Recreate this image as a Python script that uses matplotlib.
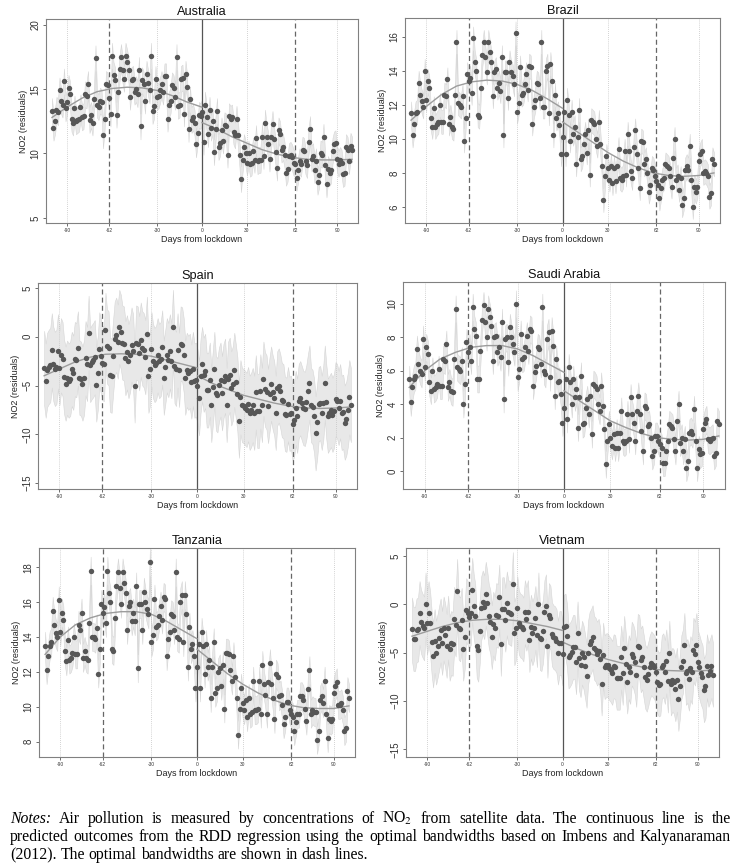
import numpy as np
import matplotlib
matplotlib.use("Agg")
import matplotlib.pyplot as plt

plt.rcParams["font.family"] = ["Liberation Sans", "DejaVu Sans"]
plt.rcParams["mathtext.fontset"] = "stix"

W, H = 740, 867

days = np.arange(-100, 101)
fit_days_left = [-100, -90, -80, -70, -60, -50, -40, -30, -20, -10, 0]
fit_days_right = [0, 10, 20, 30, 40, 50, 60, 70, 80, 90, 100]
x_ticks = [-90, -62, -30, 0, 30, 62, 90]

australia_no2 = [
    13.3, 12.0, 12.5, 13.4, 13.2, 14.9, 14.1, 13.8, 15.6, 13.5,
    14.0, 15.1, 14.6, 12.7, 12.4, 13.5, 12.5, 12.6, 12.7, 13.6,
    12.8, 12.9, 14.6, 14.5, 15.4, 12.6, 13.0, 12.4, 14.2, 17.4,
    13.8, 13.6, 14.1, 14.0, 11.4, 12.7, 15.4, 15.3, 14.3, 13.1,
    17.6, 16.1, 15.7, 13.0, 14.8, 16.6, 17.5, 16.5, 15.8, 17.6,
    17.1, 16.5, 14.4, 15.7, 15.8, 14.8, 15.0, 14.6, 16.5, 12.1,
    15.7, 15.4, 14.1, 16.2, 15.5, 14.9, 17.6, 13.3, 13.7, 15.8,
    14.4, 14.5, 14.9, 15.4, 14.8, 16.0, 16.0, 12.7, 13.8, 14.1,
    15.3, 15.1, 14.4, 17.5, 13.7, 13.8, 15.8, 15.9, 13.1, 16.2,
    15.2, 11.9, 14.2, 12.6, 12.8, 12.4, 10.7, 11.6, 13.0, 12.9,
    13.2, 10.9, 13.8, 12.8, 11.5, 13.4, 12.0, 12.5, 10.1, 11.9,
    13.3, 10.5, 10.8, 11.8, 11.0, 12.2, 12.1, 9.9, 12.9, 12.7,
    12.8, 11.7, 11.4, 12.7, 11.4, 9.9, 8.0, 9.5, 10.5, 10.0,
    9.3, 10.0, 9.2, 9.3, 10.2, 9.5, 11.2, 9.4, 9.5, 9.5,
    11.3, 9.8, 12.4, 11.3, 10.7, 9.6, 11.3, 12.3, 11.1, 10.1,
    8.9, 11.8, 11.5, 10.3, 10.5, 9.9, 8.5, 8.8, 9.8, 9.9,
    9.7, 9.3, 9.2, 8.1, 8.7, 9.4, 9.2, 10.3, 10.2, 9.4,
    9.1, 10.9, 11.9, 9.6, 9.8, 8.7, 9.4, 7.8, 8.3, 10.0,
    9.9, 11.3, 9.1, 7.6, 8.8, 8.5, 8.7, 10.2, 10.7, 10.8,
    9.6, 9.2, 9.5, 9.3, 8.4, 8.5, 10.5, 10.3, 9.4, 10.6,
    10.3,
]
australia_fit_left = [12.8, 13.6, 14.3, 14.8, 15.05, 15.15, 15.1, 14.9, 14.5, 14.0, 13.6]
australia_fit_right = [12.4, 11.9, 11.3, 10.8, 10.3, 9.95, 9.7, 9.55, 9.5, 9.5, 9.55]
australia_ci = 1.0

brazil_no2 = [
    11.5, 10.2, 10.9, 11.5, 11.6, 13.3, 12.6, 12.2, 11.9, 14.0,
    12.3, 13.4, 13.0, 11.2, 10.7, 11.8, 10.7, 10.9, 11.0, 12.0,
    11.0, 11.0, 12.6, 12.5, 13.5, 10.9, 11.3, 10.7, 10.6, 12.6,
    15.7, 12.1, 12.0, 11.9, 12.5, 9.9, 11.2, 13.8, 13.4, 13.6,
    12.7, 15.9, 14.5, 14.0, 11.4, 11.3, 13.0, 14.9, 15.7, 14.8,
    13.9, 15.7, 15.1, 14.5, 12.5, 13.9, 14.1, 13.0, 13.3, 12.8,
    14.8, 10.2, 13.9, 13.9, 12.4, 14.5, 13.9, 13.7, 13.2, 16.2,
    11.6, 12.1, 14.2, 12.6, 12.7, 13.2, 13.8, 12.9, 14.3, 14.2,
    10.9, 11.9, 12.3, 13.3, 13.2, 12.4, 15.7, 11.9, 11.9, 14.0,
    14.3, 11.5, 14.4, 13.4, 10.2, 12.6, 11.2, 11.5, 10.8, 9.1,
    10.1, 11.6, 9.1, 12.3, 11.4, 9.9, 11.6, 10.3, 10.7, 8.5,
    10.1, 11.7, 8.8, 9.0, 9.7, 10.3, 9.2, 10.5, 7.9, 11.1,
    11.0, 10.9, 10.0, 9.6, 11.0, 9.7, 8.4, 6.4, 7.8, 9.0,
    8.3, 7.6, 8.4, 7.4, 8.3, 7.5, 8.4, 9.4, 7.7, 7.6,
    7.8, 9.3, 7.9, 10.3, 9.3, 8.1, 7.7, 9.5, 10.5, 9.1,
    8.3, 7.1, 9.9, 9.8, 8.5, 8.8, 8.0, 6.9, 7.3, 8.3,
    8.2, 7.8, 7.5, 7.3, 6.5, 7.1, 7.6, 7.7, 8.5, 8.4,
    8.3, 7.8, 7.2, 8.9, 10.0, 7.6, 7.8, 7.0, 7.7, 6.1,
    6.5, 8.2, 8.4, 8.2, 9.6, 7.6, 6.0, 7.2, 6.9, 7.2,
    8.7, 9.1, 9.3, 8.0, 8.1, 8.0, 7.8, 6.6, 6.8, 8.8,
    8.5,
]
brazil_fit_left = [11.1, 11.9, 12.6, 13.1, 13.35, 13.45, 13.4, 13.2, 12.85, 12.35, 11.8]
brazil_fit_right = [11.0, 10.4, 9.8, 9.2, 8.7, 8.3, 8.0, 7.85, 7.8, 7.85, 8.0]
brazil_ci = 0.7

spain_no2 = [
    -3.2, -4.5, -3.4, -3.1, -2.9, -1.4, -2.8, -3.3, -3.1, -1.5,
    -3.2, -1.9, -2.3, -4.1, -4.8, -4.2, -4.5, -4.3, -3.3, -3.7,
    -2.3, -2.4, -1.2, -4.2, -4.3, -4.8, -4.2, -2.2, -2.8, 0.4,
    -2.9, -2.6, -2.4, -2.1, -4.9, -3.7, -1.3, -2.0, -2.7, -2.8,
    0.7, -1.0, -1.2, -3.9, -4.0, -2.0, -0.2, 0.2, -0.5, 1.0,
    0.5, -0.6, -0.7, -2.2, -1.6, -2.5, -1.9, -0.8, -1.5, -5.0,
    -0.6, -0.7, -1.7, -0.3, -1.2, -1.4, -2.1, 0.3, -4.0, -3.3,
    -1.3, -2.5, -2.9, -2.7, -1.9, -2.5, -2.3, -1.1, -4.2, -3.1,
    -1.9, -2.4, -1.5, -2.5, 1.0, -3.0, -3.3, -1.4, -3.4, -0.7,
    -0.8, -1.9, -4.2, -3.4, -3.7, -3.5, -4.6, -3.3, -4.5, -4.4,
    -5.1, -6.3, -4.0, -2.8, -3.9, -3.5, -5.5, -5.5, -4.4, -7.0,
    -5.2, -3.3, -5.8, -6.0, -4.9, -4.4, -5.8, -4.5, -4.0, -7.0,
    -4.3, -3.9, -5.3, -4.8, -3.4, -4.6, -5.9, -8.6, -6.2, -7.0,
    -7.1, -7.3, -7.5, -6.9, -7.8, -7.5, -7.0, -7.8, -5.7, -7.6,
    -7.6, -5.6, -7.0, -4.3, -5.4, -5.7, -7.1, -5.9, -4.8, -5.7,
    -6.3, -7.8, -5.3, -5.0, -5.6, -6.5, -6.6, -7.9, -8.0, -6.9,
    -7.9, -7.8, -8.9, -8.5, -7.3, -8.1, -6.6, -6.3, -6.8, -7.3,
    -7.4, -6.7, -5.6, -4.7, -7.0, -7.2, -8.1, -9.9, -8.7, -6.9,
    -6.8, -7.8, -6.8, -4.7, -6.7, -8.1, -7.8, -7.5, -8.0, -7.6,
    -6.4, -6.6, -7.3, -6.6, -7.8, -7.7, -8.8, -8.4, -7.5, -6.2,
    -7.0,
]
spain_fit_left = [-4.0, -3.3, -2.6, -2.1, -1.8, -1.75, -1.8, -2.0, -2.4, -2.8, -3.2]
spain_fit_right = [-4.0, -4.8, -5.4, -6.0, -6.4, -6.8, -7.1, -7.3, -7.35, -7.3, -7.2]
spain_ci = 3.8

saudi_no2 = [
    5.5, 4.1, 5.0, 5.5, 5.7, 7.3, 6.4, 6.0, 5.8, 7.9,
    6.2, 7.4, 7.0, 5.3, 4.8, 6.0, 4.9, 5.0, 5.2, 6.1,
    5.1, 5.1, 6.7, 6.6, 7.6, 5.0, 5.3, 4.8, 4.7, 6.7,
    9.7, 6.2, 6.1, 6.0, 6.6, 4.0, 5.2, 7.7, 7.1, 7.4,
    6.6, 9.8, 8.5, 8.1, 5.5, 5.5, 7.2, 9.0, 9.9, 8.9,
    8.0, 9.7, 9.2, 8.7, 6.6, 8.0, 8.1, 7.1, 7.4, 6.8,
    8.9, 4.3, 7.9, 8.0, 6.5, 8.6, 8.0, 7.6, 7.1, 10.0,
    5.6, 6.1, 8.2, 6.7, 6.8, 7.4, 8.1, 7.2, 8.5, 8.4,
    5.1, 5.9, 6.3, 7.4, 7.3, 6.4, 9.8, 6.0, 5.8, 7.9,
    8.3, 5.6, 8.4, 7.5, 4.5, 6.7, 5.3, 5.4, 4.6, 2.9,
    3.8, 5.5, 3.1, 6.2, 5.3, 4.0, 5.5, 4.4, 4.9, 2.6,
    4.4, 5.7, 2.8, 2.9, 3.8, 4.3, 3.4, 4.5, 2.2, 5.2,
    5.1, 4.9, 4.0, 3.6, 5.1, 3.9, 2.5, 0.4, 1.8, 2.8,
    2.0, 1.5, 2.2, 1.4, 2.3, 1.4, 2.3, 3.6, 1.8, 1.7,
    1.8, 3.4, 1.9, 4.4, 3.4, 2.9, 1.8, 3.6, 4.5, 3.4,
    2.4, 1.2, 3.9, 3.8, 2.7, 2.8, 2.0, 0.9, 1.2, 2.1,
    2.1, 1.8, 1.6, 1.4, 0.5, 0.5, 1.2, 1.8, 2.8, 2.7,
    2.6, 1.9, 1.2, 3.0, 4.0, 1.7, 2.0, 1.2, 1.9, 0.2,
    0.6, 2.3, 2.4, 2.2, 3.7, 1.8, 0.2, 1.3, 1.0, 1.1,
    2.5, 2.9, 3.1, 1.9, 1.8, 1.9, 2.0, 0.9, 1.1, 3.0,
    2.8,
]
saudi_fit_left = [5.0, 6.0, 6.7, 7.1, 7.4, 7.5, 7.5, 7.3, 6.9, 6.4, 5.9]
saudi_fit_right = [4.8, 4.2, 3.6, 3.0, 2.6, 2.25, 2.0, 1.9, 1.85, 1.9, 2.1]
saudi_ci = 0.8

tanzania_no2 = [
    13.5, 12.1, 12.9, 13.5, 13.7, 15.5, 14.7, 14.2, 14.0, 16.1,
    14.3, 15.4, 15.0, 13.2, 12.6, 13.8, 12.7, 12.8, 13.1, 14.0,
    13.0, 13.0, 14.7, 14.4, 15.4, 12.8, 13.2, 12.8, 12.7, 14.8,
    17.8, 14.0, 14.0, 13.9, 14.5, 11.9, 13.3, 15.9, 15.4, 15.7,
    14.8, 17.8, 16.5, 16.0, 13.3, 13.2, 15.1, 16.9, 17.7, 16.8,
    15.9, 17.7, 17.1, 16.5, 14.4, 15.8, 16.0, 14.9, 15.4, 14.9,
    16.9, 12.2, 15.9, 15.9, 14.4, 16.6, 16.0, 15.6, 15.3, 18.3,
    13.7, 14.1, 16.2, 14.6, 14.7, 15.2, 15.8, 15.0, 16.3, 16.2,
    12.9, 13.9, 14.3, 15.3, 15.2, 14.4, 17.7, 14.0, 13.9, 16.0,
    16.4, 13.7, 16.4, 15.3, 12.3, 14.6, 13.3, 13.6, 12.9, 11.1,
    12.3, 13.6, 11.1, 14.3, 13.5, 11.9, 13.6, 12.3, 12.7, 10.5,
    12.3, 13.7, 10.8, 11.1, 12.0, 12.2, 11.2, 12.4, 9.9, 13.1,
    13.1, 13.0, 12.1, 11.5, 12.9, 11.7, 10.5, 8.4, 9.9, 11.1,
    10.2, 9.8, 10.4, 9.4, 10.5, 9.6, 9.7, 11.5, 9.8, 9.8,
    9.9, 11.5, 9.6, 12.4, 11.3, 10.7, 9.6, 11.4, 12.5, 11.3,
    10.5, 9.3, 11.9, 11.7, 10.6, 10.7, 10.1, 9.0, 9.4, 10.3,
    10.3, 9.8, 9.6, 9.4, 8.6, 9.1, 9.6, 9.6, 10.6, 10.6,
    10.4, 9.9, 9.2, 11.0, 12.1, 9.6, 9.8, 9.7, 9.7, 8.1,
    8.6, 10.4, 10.6, 10.2, 11.5, 9.6, 8.2, 9.3, 9.2, 9.3,
    10.8, 11.2, 11.4, 10.1, 10.1, 10.2, 9.8, 8.6, 8.8, 10.9,
    10.5,
]
tanzania_fit_left = [13.0, 14.0, 14.7, 15.1, 15.35, 15.45, 15.45, 15.3, 14.9, 14.4, 13.9]
tanzania_fit_right = [13.3, 12.6, 11.9, 11.3, 10.8, 10.4, 10.1, 9.95, 9.9, 9.9, 10.05]
tanzania_ci = 0.8

vietnam_no2 = [
    -2.6, -3.6, -3.6, -2.7, -2.6, -0.9, -1.8, -2.2, -2.5, 0.0,
    -1.9, -0.9, -1.9, -3.9, -5.3, -3.8, -5.0, -4.3, -3.5, -2.7,
    -4.0, -2.5, -3.2, -4.3, -2.4, -4.6, -4.0, -4.1, -1.5, -2.1,
    1.4, -2.4, -2.6, -1.6, -4.6, -3.4, -0.6, -0.9, -1.3, -0.9,
    1.5, -0.2, -1.2, -4.3, -4.7, -2.8, -0.4, 0.2, -0.3, 1.1,
    0.1, -1.2, -1.8, -3.4, -2.0, -2.5, -1.1, -1.2, 0.8, -4.1,
    -0.5, -0.5, -1.6, 0.1, -0.8, -0.9, -1.0, 2.1, -3.0, -2.5,
    -0.4, -1.9, -2.2, -2.3, -2.6, -0.8, -1.5, -0.8, -3.7, -2.3,
    -3.0, -2.5, -1.4, -3.2, 0.0, -3.5, -3.6, -2.8, -0.8, -0.2,
    -4.3, -1.1, -1.4, -3.1, -3.4, -3.5, -3.8, -5.0, -4.0, -4.0,
    -5.1, -2.3, -2.2, -3.3, -5.4, -5.2, -4.9, -4.4, -4.4, -6.0,
    -3.0, -5.6, -6.3, -5.0, -5.5, -6.4, -7.4, -5.0, -4.1, -3.8,
    -3.4, -4.5, -4.7, -5.1, -4.8, -5.7, -8.2, -5.2, -6.5, -6.3,
    -6.3, -6.6, -6.8, -7.1, -6.4, -6.5, -7.6, -7.6, -7.6, -5.5,
    -7.1, -4.5, -6.2, -8.0, -6.5, -7.0, -5.1, -5.4, -6.0, -7.3,
    -4.3, -4.4, -5.8, -5.5, -6.5, -7.5, -7.8, -7.2, -6.5, -6.1,
    -6.3, -6.5, -7.0, -8.0, -8.3, -8.2, -6.5, -6.3, -7.0, -5.9,
    -7.9, -5.0, -8.2, -7.8, -8.0, -8.8, -7.8, -9.8, -8.5, -6.5,
    -5.9, -4.2, -7.1, -6.9, -7.7, -6.6, -7.0, -4.7, -5.1, -4.2,
    -6.0, -6.5, -7.1, -7.5, -8.9, -8.5, -6.4, -7.3, -6.9, -6.4,
    -7.3,
]
vietnam_fit_left = [-3.3, -2.8, -2.3, -1.9, -1.65, -1.55, -1.55, -1.7, -2.0, -2.3, -2.7]
vietnam_fit_right = [-3.9, -4.6, -5.2, -5.7, -6.1, -6.4, -6.7, -6.85, -6.9, -6.9, -6.8]
vietnam_ci = 3.3


def draw_panel(fig, box, title, values, fit_left, fit_right, ci, ylim, yticks):
    left, top, right, bottom = box
    ax = fig.add_axes([left / W, 1 - bottom / H, (right - left) / W, (bottom - top) / H])
    vals = np.array(values)

    ax.fill_between(days, vals - ci, vals + ci, facecolor="#e8e8e8",
                    edgecolor="#d6d6d6", lw=0.4, zorder=1)
    for d in (-90, -30, 30, 90):
        ax.axvline(d, color="#c4c4c4", lw=0.6, ls=(0, (1, 1.5)), zorder=2)
    for d in (-62, 62):
        ax.axvline(d, color="#666666", lw=0.9, ls=(0, (4, 2.5)), zorder=2)
    ax.axvline(0, color="#555555", lw=0.9, zorder=2)

    ax.plot(fit_days_left, fit_left, color="#9c9c9c", lw=1.0, zorder=3)
    ax.plot(fit_days_right, fit_right, color="#9c9c9c", lw=1.0, zorder=3)
    ax.scatter(days, vals, s=15, color="#575757", lw=0, zorder=4)

    ax.set_xlim(-104, 104)
    ax.set_ylim(*ylim)
    ax.set_xticks(x_ticks)
    ax.set_xticklabels([str(t) for t in x_ticks])
    ax.set_yticks(yticks)
    ax.tick_params(axis="x", labelsize=3.5, length=2, width=0.5, pad=1.5, colors="#333333")
    ax.tick_params(axis="y", labelsize=7, length=2.5, width=0.5, pad=1.5,
                   labelrotation=90, colors="#333333")
    for lab in ax.get_yticklabels():
        lab.set_va("center")
    for sp in ax.spines.values():
        sp.set_color("#808080")
        sp.set_linewidth(0.8)

    ax.set_title(title, fontsize=9.2, pad=3, color="#111111")
    ax.set_xlabel("Days from lockdown", fontsize=6.5, labelpad=1.5, color="#222222")
    ax.set_ylabel("NO2 (residuals)", fontsize=6.5, labelpad=2, color="#222222")
    return ax


def justify_line(fig, words, y_px, x0_px, x1_px, size, justify=True):
    renderer = fig.canvas.get_renderer()
    items = []
    for w in words:
        style = "italic" if w == "Notes:" else "normal"
        t = fig.text(0, 1 - y_px / H, w, fontsize=size, style=style,
                     family=["Liberation Serif", "DejaVu Serif"], va="baseline", ha="left")
        items.append(t)
    widths = [t.get_window_extent(renderer).width for t in items]
    if justify:
        gap = (x1_px - x0_px - sum(widths)) / (len(words) - 1)
    else:
        gap = size * 0.25 * fig.dpi / 72
    x = x0_px
    for t, w in zip(items, widths):
        t.set_x(x / W)
        x += w + gap


fig = plt.figure(figsize=(7.4, 8.67), dpi=100)

draw_panel(fig, (46, 19, 358, 223), "Australia", australia_no2,
           australia_fit_left, australia_fit_right, australia_ci, (4.6, 20.45), [5, 10, 15, 20])
draw_panel(fig, (405, 18, 720, 223), "Brazil", brazil_no2,
           brazil_fit_left, brazil_fit_right, brazil_ci, (5.06, 17.1), [6, 8, 10, 12, 14, 16])
draw_panel(fig, (38, 283, 357, 489), "Spain", spain_no2,
           spain_fit_left, spain_fit_right, spain_ci, (-15.6, 5.5), [-15, -10, -5, 0, 5])
draw_panel(fig, (403, 282, 725, 489), "Saudi Arabia", saudi_no2,
           saudi_fit_left, saudi_fit_right, saudi_ci, (-1.07, 11.3), [0, 2, 4, 6, 8, 10])
draw_panel(fig, (39, 548, 355, 757), "Tanzania", tanzania_no2,
           tanzania_fit_left, tanzania_fit_right, tanzania_ci, (7.12, 19.1), [8, 10, 12, 14, 16, 18])
draw_panel(fig, (406, 548, 719, 757), "Vietnam", vietnam_no2,
           vietnam_fit_left, vietnam_fit_right, vietnam_ci, (-15.8, 5.83), [-15, -10, -5, 0, 5])

line1 = ("Notes: Air pollution is measured by concentrations of NO$_2$ from satellite data. "
         "The continuous line is the").split(" ")
line2 = ("predicted outcomes from the RDD regression using the optimal bandwidths based on "
         "Imbens and Kalyanaraman").split(" ")
line3 = "(2012). The optimal bandwidths are shown in dash lines.".split(" ")
justify_line(fig, line1, 823, 10, 731, 11.3)
justify_line(fig, line2, 841, 10, 731, 11.3)
justify_line(fig, line3, 859, 10, 731, 11.3, justify=False)

fig.savefig("out.png", dpi=100)
